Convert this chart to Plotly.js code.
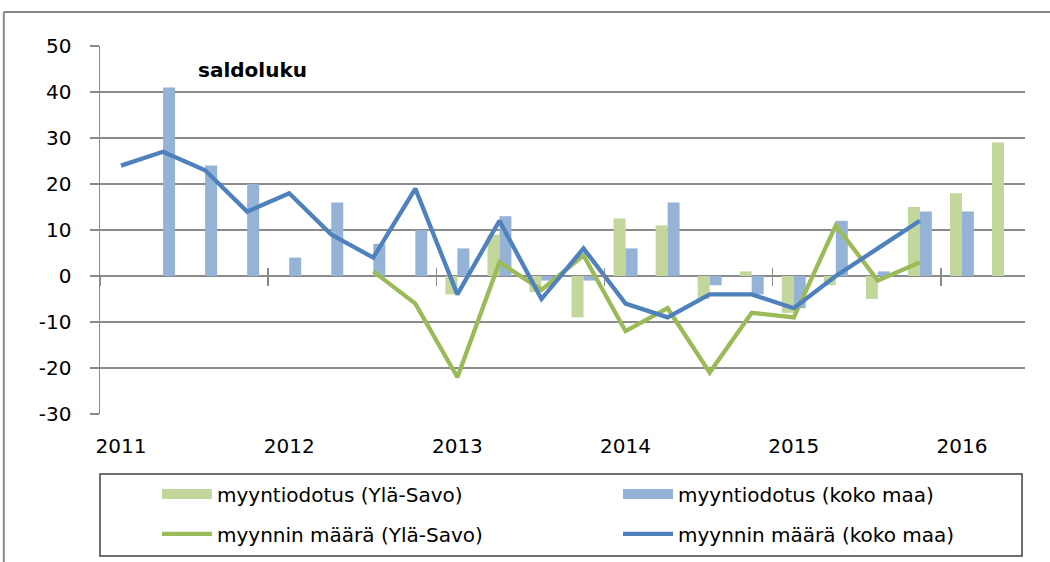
<!DOCTYPE html>
<html>
<head>
<meta charset="utf-8">
<script src="https://cdn.plot.ly/plotly-3.0.1.min.js"></script>
<style>html,body{margin:0;padding:0;background:#fff;}#chart{width:1050px;height:562px;}</style>
</head>
<body>
<div id="chart"></div>
<script>
var quarters = ['2011/1','2011/2','2011/3','2011/4','2012/1','2012/2','2012/3','2012/4',
  '2013/1','2013/2','2013/3','2013/4','2014/1','2014/2','2014/3','2014/4',
  '2015/1','2015/2','2015/3','2015/4','2016/1','2016/2'];
var yearTickVals = ['2011/1','2012/1','2013/1','2014/1','2015/1','2016/1'];
var yearTickText = ['2011','2012','2013','2014','2015','2016'];
var yearBoundaries = [-0.5, 3.5, 7.5, 11.5, 15.5, 19.5];
var yTickVals = [-30,-20,-10,0,10,20,30,40,50];
var yTickText = ['-30','-20','-10','0','10','20','30','40','50'];

var expectYlaSavo = [null,null,null,null,null,null,null,null,-4,9,-3.5,-9,12.5,11,-5,1,-8,-2,-5,15,18,29];
var expectKokoMaa = [null,41,24,20,4,16,7,10,6,13,-1,-1,6,16,-2,-4,-7,12,1,14,14,null];
var salesYlaSavo = [null,null,null,null,null,null,1,-6,-22,3,-3,4.5,-12,-7,-21,-8,-9,11,-1,3,null,null];
var salesKokoMaa = [24,27,23,14,18,9,4,19,-4,12,-5,6,-6,-9,-4,-4,-7,0,6,12,null,null];

var names = ['myyntiodotus (Ylä-Savo)','myyntiodotus (koko maa)','myynnin määrä (Ylä-Savo)','myynnin määrä (koko maa)'];

var FONT = 'DejaVu Sans, Liberation Sans, Arial, sans-serif';
var GRID = '#8a8a8a';
var C_BAR_GREEN = '#C3D69B', C_BAR_BLUE = '#95B3D7', C_LINE_GREEN = '#9BBB59', C_LINE_BLUE = '#4F81BD';

// legend swatches for the bar series (wide rectangles like the original), drawn only in the legend
var emptySeries = quarters.map(function(){ return null; });

var traces = [
  {type:'bar', x:quarters, y:expectYlaSavo, name:names[0], marker:{color:C_BAR_GREEN}, legendgroup:'g1', showlegend:false},
  {type:'bar', x:quarters, y:expectKokoMaa, name:names[1], marker:{color:C_BAR_BLUE}, legendgroup:'g2', showlegend:false},
  {type:'scatter', mode:'lines', x:quarters, y:salesYlaSavo, name:names[2], line:{color:C_LINE_GREEN, width:4.3}, legend:'legend3'},
  {type:'scatter', mode:'lines', x:quarters, y:salesKokoMaa, name:names[3], line:{color:C_LINE_BLUE, width:4.3}, legend:'legend4'},
  {type:'scatter', mode:'lines', x:quarters, y:emptySeries, name:names[0], line:{color:C_BAR_GREEN, width:10}, legendgroup:'g1', legend:'legend', hoverinfo:'skip'},
  {type:'scatter', mode:'lines', x:quarters, y:emptySeries, name:names[1], line:{color:C_BAR_BLUE, width:10}, legendgroup:'g2', legend:'legend2', hoverinfo:'skip'},
  {type:'scatter', mode:'lines', x:[0], y:[null], xaxis:'x2', showlegend:false, hoverinfo:'skip'},
  {type:'scatter', mode:'lines', x:[0], y:[null], xaxis:'x3', showlegend:false, hoverinfo:'skip'}
];

var boundaryAxis = function(dir, len){
  return {
    overlaying:'x', anchor:'free', position:0.375, type:'linear',
    range:[-0.5, quarters.length-0.5], tickmode:'array', tickvals:yearBoundaries,
    ticks:dir, ticklen:len, tickwidth:1.5, tickcolor:GRID,
    showticklabels:false, showgrid:false, zeroline:false, showline:false, fixedrange:true
  };
};

var legendBox = function(x, y){
  return {
    orientation:'h', x:x, xanchor:'left', y:y, yanchor:'middle',
    itemwidth:50, bgcolor:'rgba(0,0,0,0)', borderwidth:0,
    font:{family:FONT, size:20, color:'#000'}
  };
};
var ROW1 = -0.2174, ROW2 = -0.326, COL1 = 0.0616, COL2 = 0.5600;

var layout = {
  width:1050, height:562,
  margin:{l:100, r:25, t:46, b:148, autoexpand:false},
  paper_bgcolor:'#fff', plot_bgcolor:'#fff',
  font:{family:FONT, size:20, color:'#000'},
  barmode:'group', bargap:0.43, bargroupgap:0,
  showlegend:true,
  xaxis:{
    type:'category', categoryorder:'array', categoryarray:quarters,
    range:[-0.5, quarters.length-0.5],
    tickmode:'array', tickvals:yearTickVals, ticktext:yearTickText,
    ticks:'', ticklabelstandoff:18, showgrid:false, zeroline:false, showline:false,
    tickfont:{family:FONT, size:20, color:'#000'}
  },
  xaxis2: boundaryAxis('outside', 9),
  xaxis3: boundaryAxis('inside', 8),
  yaxis:{
    range:[-30,50], tickmode:'array', tickvals:yTickVals, ticktext:yTickText,
    showgrid:true, gridcolor:GRID, gridwidth:1.5,
    zeroline:true, zerolinecolor:GRID, zerolinewidth:1.5,
    showline:true, linecolor:GRID, linewidth:1.5,
    ticks:'outside', ticklen:9, tickcolor:GRID, tickwidth:1.5,
    ticklabelstandoff:14,
    tickfont:{family:FONT, size:20, color:'#000'}
  },
  legend: legendBox(COL1, ROW1),
  legend2: legendBox(COL2, ROW1),
  legend3: legendBox(COL1, ROW2),
  legend4: legendBox(COL2, ROW2),
  annotations:[{
    text:'<b>saldoluku</b>', xref:'paper', yref:'paper',
    x:0.1038, y:0.9348, xanchor:'left', yanchor:'middle', showarrow:false,
    font:{family:FONT, size:20, color:'#000'}
  }],
  shapes:[
    {type:'rect', xref:'paper', yref:'paper', x0:0, x1:0.9968, y0:-0.3859, y1:-0.163,
     line:{color:'#404040', width:1.5}, fillcolor:'rgba(0,0,0,0)', layer:'below'},
    {type:'line', xref:'paper', yref:'paper', x0:-0.104, x1:1.03, y0:1.0924, y1:1.0924,
     line:{color:'#888', width:2}},
    {type:'line', xref:'paper', yref:'paper', x0:-0.104, x1:-0.104, y0:1.0924, y1:-0.42,
     line:{color:'#888', width:2}}
  ]
};

Plotly.newPlot('chart', traces, layout, {displayModeBar:false, staticPlot:true});
</script>
</body>
</html>
